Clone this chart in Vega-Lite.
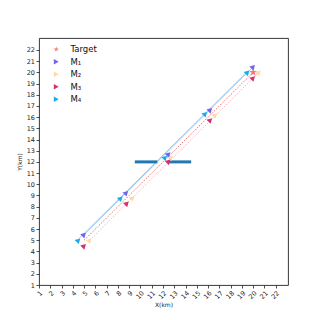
{
  "$schema": "https://vega.github.io/schema/vega-lite/v6.json",
  "width": 249,
  "height": 247,
  "autosize": {"type": "none"},
  "padding": {"left": 39, "top": 38, "right": 32, "bottom": 35},
  "config": {
    "font": "DejaVu Sans",
    "view": {"stroke": "#222222", "strokeWidth": 0.9},
    "axis": {"grid": false, "domain": false, "tickColor": "#222222", "tickSize": 3, "tickWidth": 0.8, "labelFontSize": 6.5, "labelColor": "#222222", "titleFontSize": 6, "titleFontWeight": "normal", "titleColor": "#222222", "labelPadding": 1.5, "labelOverlap": false, "labelFlush": false}
  },
  "datasets": {
    "pts": [
      {"series": "Target", "x": 20, "y": 20},
      {"series": "M1", "x": 5, "y": 5.5}, {"series": "M1", "x": 8.75, "y": 9.25}, {"series": "M1", "x": 12.5, "y": 12.7}, {"series": "M1", "x": 16.2, "y": 16.65}, {"series": "M1", "x": 20, "y": 20.5},
      {"series": "M2", "x": 5.5, "y": 5}, {"series": "M2", "x": 9.3, "y": 8.8}, {"series": "M2", "x": 12.7, "y": 12.4}, {"series": "M2", "x": 16.65, "y": 16.2}, {"series": "M2", "x": 20.5, "y": 20},
      {"series": "M3", "x": 5, "y": 4.5}, {"series": "M3", "x": 8.8, "y": 8.3}, {"series": "M3", "x": 12.5, "y": 12.05}, {"series": "M3", "x": 16.2, "y": 15.75}, {"series": "M3", "x": 20, "y": 19.5},
      {"series": "M4", "x": 4.5, "y": 5}, {"series": "M4", "x": 8.25, "y": 8.75}, {"series": "M4", "x": 12.2, "y": 12.4}, {"series": "M4", "x": 15.75, "y": 16.3}, {"series": "M4", "x": 19.5, "y": 20}
    ],
    "pathsolid": [
      {"path": "A", "x": 5, "y": 5.5}, {"path": "A", "x": 20, "y": 20.5},
      {"path": "B", "x": 4.5, "y": 5.1}, {"path": "B", "x": 19.5, "y": 20.1}
    ],
    "pathred": [
      {"x": 5, "y": 5}, {"x": 20, "y": 20}
    ],
    "pathpink": [
      {"x": 5.5, "y": 5}, {"x": 20.5, "y": 20}
    ],
    "walls": [
      {"x": 9.5, "x2": 11.5, "y": 12},
      {"x": 12.5, "x2": 14.5, "y": 12}
    ]
  },
  "encoding": {
    "x": {"field": "x", "type": "quantitative", "scale": {"domain": [1, 23.09], "nice": false, "zero": false}, "axis": {"values": [1,2,3,4,5,6,7,8,9,10,11,12,13,14,15,16,17,18,19,20,21,22], "labelOverlap": false, "labelAngle": -45, "title": "X(km)", "titlePadding": 2, "titleColor": "#222222"}},
    "y": {"field": "y", "type": "quantitative", "scale": {"domain": [1, 23.07], "nice": false, "zero": false}, "axis": {"values": [1,2,3,4,5,6,7,8,9,10,11,12,13,14,15,16,17,18,19,20,21,22], "labelOverlap": false, "title": "Y(km)", "titlePadding": 4, "titleColor": "#222222"}}
  },
  "layer": [
    {
      "data": {"name": "pathsolid"},
      "mark": {"type": "line", "strokeWidth": 1, "color": "#9ccbf5"},
      "encoding": {
        "detail": {"field": "path", "type": "nominal"}
      }
    },
    {
      "data": {"name": "pathred"},
      "mark": {"type": "line", "strokeWidth": 1, "color": "#ee6a6a", "strokeDash": [1.5, 1.5]},
      "encoding": {}
    },
    {
      "data": {"name": "pathpink"},
      "mark": {"type": "line", "strokeWidth": 1, "color": "#f7b6c6", "strokeDash": [1.5, 1.5]},
      "encoding": {}
    },
    {
      "data": {"name": "walls"},
      "mark": {"type": "rule", "color": "#1f77b4", "strokeWidth": 3},
      "encoding": {
        "x2": {"field": "x2"}
      }
    },
    {
      "data": {"name": "pts"},
      "mark": {"type": "point", "filled": true, "opacity": 1},
      "encoding": {
        "angle": {"condition": {"test": "datum.series === 'Target'", "value": 0}, "value": -45},
        "size": {"condition": {"test": "datum.series === 'Target'", "value": 70}, "value": 34},
        "color": {"field": "series", "type": "nominal", "scale": {"domain": ["Target", "M1", "M2", "M3", "M4"], "range": ["#f07a7a", "#7262ee", "#ffd9a6", "#d6306b", "#12acef"]}, "legend": {"title": null, "orient": "none", "legendX": 13, "legendY": 7, "padding": 0, "labelFontSize": 8.5, "labelColor": "#111111", "symbolSize": 32, "rowPadding": 3.5, "labelOffset": 10, "labelExpr": "datum.label === 'Target' ? 'Target' : 'M' + (datum.label === 'M1' ? '₁' : datum.label === 'M2' ? '₂' : datum.label === 'M3' ? '₃' : '₄')"}},
        "shape": {"field": "series", "type": "nominal", "scale": {"domain": ["Target", "M1", "M2", "M3", "M4"], "range": ["M0,-1L0.2245,-0.309L0.951,-0.309L0.363,0.118L0.588,0.809L0,0.382L-0.588,0.809L-0.363,0.118L-0.951,-0.309L-0.2245,-0.309Z", "triangle-right", "triangle-right", "triangle-right", "triangle-right"]}}
      }
    }
  ]
}
